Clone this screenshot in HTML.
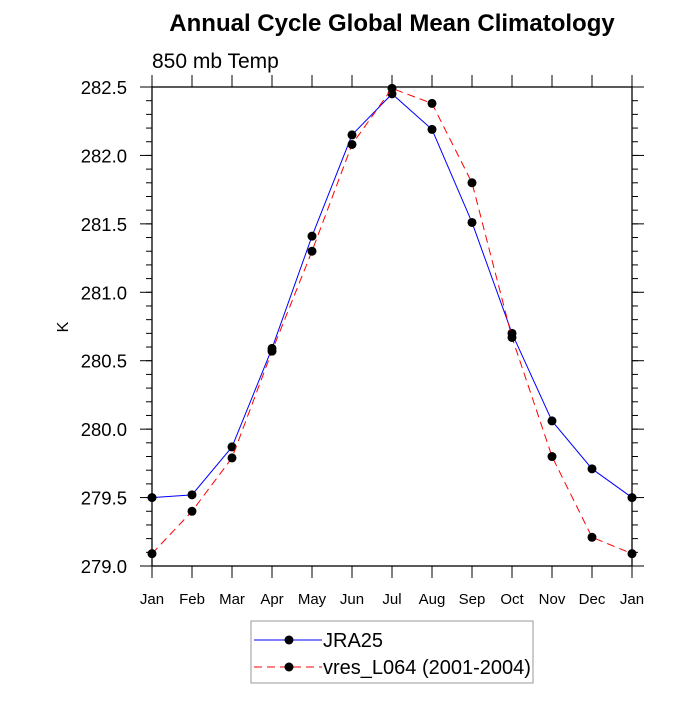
<!DOCTYPE html>
<html><head><meta charset="utf-8"><style>
body{margin:0;background:#fff;font-family:"Liberation Sans",sans-serif}
svg text{font-family:"Liberation Sans",sans-serif}
</style></head><body>
<svg id="c" width="700" height="700"></svg>
<script>
const months=["Jan","Feb","Mar","Apr","May","Jun","Jul","Aug","Sep","Oct","Nov","Dec","Jan"];
const jra25=[279.50,279.52,279.87,280.59,281.41,282.15,282.45,282.19,281.51,280.70,280.06,279.71,279.50];
const vres=[279.09,279.40,279.79,280.57,281.30,282.08,282.49,282.38,281.80,280.67,279.80,279.21,279.09];
const yTicks=["279.0","279.5","280.0","280.5","281.0","281.5","282.0","282.5"];
const svg=document.getElementById('c');const NS="http://www.w3.org/2000/svg";
const L=152,R=632,T=87,B=566,ymin=279,ymax=282.5;
const xs=i=>L+i*(R-L)/(months.length-1);
const ys=v=>B-(v-ymin)/(ymax-ymin)*(B-T);
function mk(t,a,p){const e=document.createElementNS(NS,t);for(const k in a)e.setAttribute(k,a[k]);(p||svg).appendChild(e);return e;}
function txt(x,y,s,a){const e=mk('text',Object.assign({x:x,y:y},a));e.textContent=s;return e;}
let t=txt(392,31,"Annual Cycle Global Mean Climatology",{"text-anchor":"middle","font-size":"24","font-weight":"bold"});

t=txt(152,68,"850 mb Temp",{"font-size":"21"});

t=txt(68,327,"K",{"font-size":"16","text-anchor":"middle",transform:"rotate(-90 68 327)"});

const fr=mk('rect',{x:L,y:T,width:R-L,height:B-T,fill:"none",stroke:"#000","stroke-width":"1.3"});

const g=mk('g',{stroke:"#000","stroke-width":"1"});
yTicks.forEach(s=>{const v=parseFloat(s),y=ys(v);
 mk('line',{x1:L-12,y1:y,x2:L,y2:y},g);mk('line',{x1:R,y1:y,x2:R+12,y2:y},g);
 const e=txt(L-25,y+7,s,{"font-size":"18.5","text-anchor":"end"});
 });
for(let v=ymin;v<=ymax+1e-9;v+=0.1){const y=ys(v);mk('line',{x1:L,y1:y,x2:L-6,y2:y},g);mk('line',{x1:R,y1:y,x2:R+6,y2:y},g);}
months.forEach((m,i)=>{const x=xs(i);mk('line',{x1:x,y1:B,x2:x,y2:B+12},g);mk('line',{x1:x,y1:T,x2:x,y2:T-12},g);
 const e=txt(x,604,m,{"font-size":"15","text-anchor":"middle"});
 });
function series(d,color,dash,name){
 const p=mk('polyline',{points:d.map((v,i)=>xs(i)+","+ys(v)).join(" "),fill:"none",stroke:color,"stroke-width":"1","stroke-dasharray":dash});
 
 d.forEach((v,i)=>{const c=mk('circle',{cx:xs(i),cy:ys(v),r:4.5,fill:"#000"});
  });
}
series(jra25,"#0000ff","none","jra25");
series(vres,"#ff0000","8,5","vres");
const lg=mk('g',{});
mk('rect',{x:251,y:621,width:282,height:62,fill:"#fff",stroke:"#999"},lg);
mk('line',{x1:254,y1:640,x2:322,y2:640,stroke:"#0000ff"},lg);
mk('circle',{cx:289,cy:640,r:4.5,fill:"#000"},lg);
t=txt(323,647,"JRA25",{"font-size":"20"});lg.appendChild(t);
mk('line',{x1:254,y1:667,x2:322,y2:667,stroke:"#ff0000","stroke-dasharray":"8,5"},lg);
mk('circle',{cx:289,cy:667,r:4.5,fill:"#000"},lg);
t=txt(323,674,"vres_L064 (2001-2004)",{"font-size":"20"});lg.appendChild(t);
</script>
</body></html>
